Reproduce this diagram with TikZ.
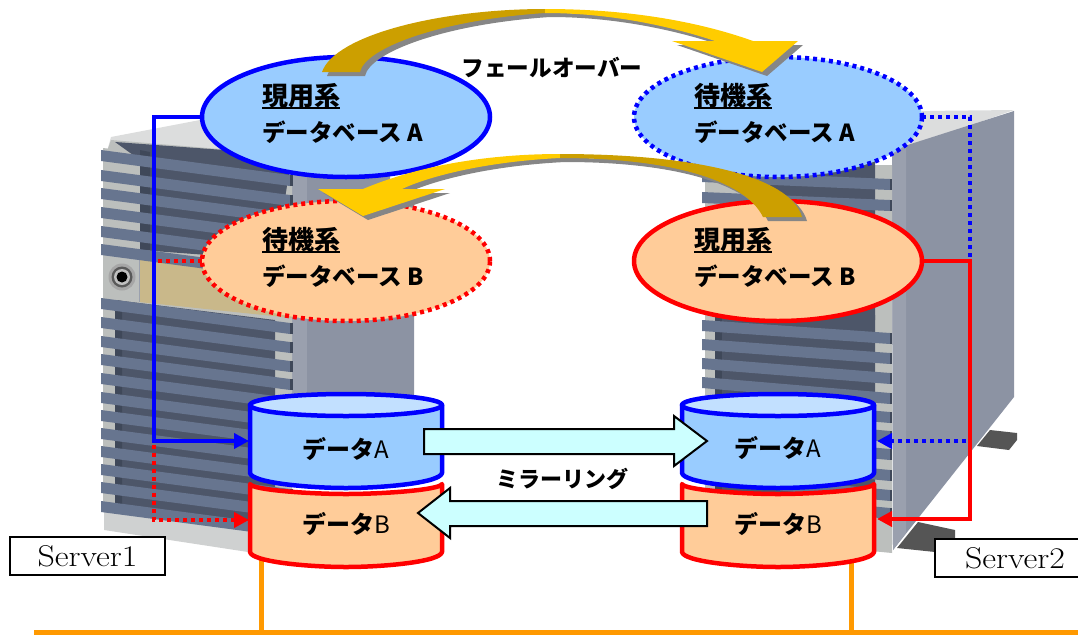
\documentclass[tikz,border=0pt]{standalone}
\usepackage{fontspec}
\newfontfamily\jp{Noto Sans CJK JP}
\usetikzlibrary{arrows.meta,shapes.geometric,calc}
\definecolor{cblue}{HTML}{0000FF}
\definecolor{cred}{HTML}{FF0000}
\definecolor{fblue}{HTML}{99CCFF}
\definecolor{ftop}{HTML}{C2E0FF}
\definecolor{forange}{HTML}{FFCC99}
\definecolor{fcyan}{HTML}{CCFFFF}
\definecolor{lan}{HTML}{FF9900}
\definecolor{goldd}{HTML}{CC9F00}
\definecolor{goldl}{HTML}{FFCC00}
\definecolor{shad}{HTML}{868686}
\definecolor{slat}{HTML}{67758F}
\definecolor{slatd}{HTML}{4D5669}
\definecolor{slatc}{HTML}{3F4859}
\definecolor{panel}{HTML}{BCBFBD}
\definecolor{sidea}{HTML}{8C93A3}
\definecolor{sideb}{HTML}{9AA0AE}
\definecolor{topl}{HTML}{DCDDDD}
\definecolor{botl}{HTML}{CFD1D1}
\definecolor{tan}{HTML}{C9B88A}
\definecolor{foot}{HTML}{555555}
\newcommand{\ulbar}[1]{\setbox0\hbox{#1}\rlap{\rule[-3.6pt]{\wd0}{1.9pt}}\box0}
\tikzset{
  x=1pt,y=-1pt,
  dbell/.style={shape=ellipse,minimum width=288pt,minimum height=120pt,inner sep=0pt,outer sep=0pt,line width=4.5pt},
  bluesolid/.style={dbell,draw=cblue,fill=fblue},
  bluedot/.style={dbell,draw=cblue,fill=fblue,dash pattern=on 4pt off 4pt},
  redsolid/.style={dbell,draw=cred,fill=forange},
  reddot/.style={dbell,draw=cred,fill=forange,dash pattern=on 4pt off 4pt},
  jptext/.style={font=\jp\bfseries\fontsize{23.5}{28}\selectfont,inner sep=0pt,anchor=west,text=black},
  jphead/.style={font=\jp\bfseries\fontsize{26}{30}\selectfont,inner sep=0pt,anchor=west,text=black},
  cyltext/.style={font=\jp\bfseries\fontsize{24}{28}\selectfont,inner sep=0pt,text=black},
  captiontext/.style={font=\jp\bfseries\fontsize{22}{26}\selectfont,inner sep=0pt,text=black},
  serverbox/.style={draw=black,fill=white,line width=1.5pt,minimum width=155pt,minimum height=38pt,inner sep=0pt,font=\fontsize{30}{32}\selectfont},
  conn/.style={line width=4pt,-{Triangle[length=15pt,width=15pt]}},
  dotline/.style={dash pattern=on 4pt off 4pt},
  blockarrow/.style={draw=black,fill=fcyan,line width=2pt,miter limit=10},
  cylblue/.style={draw=cblue,line width=4.5pt,line join=round},
  cylred/.style={draw=cred,line width=4.5pt,line join=round},
  lanline/.style={draw=lan,line width=5pt},
}
\begin{document}
\begin{tikzpicture}
\useasboundingbox (0,0) rectangle (1078,635);
% ---------- Server 1
\fill[topl] (111,137) -- (200,120) -- (300,115) -- (300,170) -- (106,155) -- cycle;
\fill[panel] (111,140) -- (292,155) -- (292,180) -- (104,160) -- cycle;
\fill[sidea] (292,130) -- (390,130) -- (390,185) -- (414,195) -- (414,420) -- (292,420) -- cycle;
\fill[sideb] (292,130) -- (307,130) -- (307,420) -- (292,420) -- cycle;
\fill[panel] (103,148) -- (292,170) -- (292,520) -- (103,505) -- cycle;
\fill[botl] (104,505) -- (292,525) -- (292,556) -- (248,552) -- (104,530) -- cycle;
\fill[slatd] (115,142) -- (292,155) -- (275,260) -- (140,250) -- (140,160) -- cycle;
\fill[slatc] (140,150) -- (150,152) -- (150,250) -- (140,250) -- cycle;
\fill[slatd] (115,300) -- (275,320) -- (275,530) -- (115,512) -- cycle;
\fill[slatc] (115,300) -- (122,301) -- (122,512) -- (115,512) -- cycle;
\fill[tan] (139,257) -- (292,270) -- (292,318) -- (139,302) -- cycle;
\fill[panel] (104,255) -- (139,257) -- (139,302) -- (104,298) -- cycle;
\fill[sideb] (138.5,257) rectangle (139.5,302);
\fill[gray!70] (122,277) circle (13.5pt);
\fill[black!65] (122,277) circle (10.5pt);
\fill[gray!50] (122,277) circle (8pt);
\fill[black] (122,277) circle (5.5pt);
\foreach \y in {150,170,188,207,226,244,298,317,336,354,373,392,410,428,446,464,482,501}{
  \fill[slat] (101,\y) -- (290,{\y+25}) -- (290,{\y+36}) -- (101,{\y+11}) -- cycle;
  \fill[slatc] (290,{\y+25}) -- (293,{\y+25}) -- (293,{\y+36}) -- (290,{\y+36}) -- cycle;
}
% ---------- Server 2
\fill[foot] (990,430) -- (1017,433) -- (1017,440) -- (1009,450) -- (977,446) -- cycle;
\fill[foot] (918,522) -- (955,530) -- (955,538) -- (935,552) -- (897,548) -- cycle;
\fill[topl] (922,111) -- (1014,110) -- (900,150) -- cycle;
\fill[sidea] (892,150) -- (1014,111) -- (1014,397) -- (893,550) -- cycle;
\fill[sideb] (892,150) -- (906,145) -- (906,533) -- (893,550) -- cycle;
\fill[panel] (705,165) -- (892,165) -- (892,553) -- (705,535) -- cycle;
\fill[slatd] (740,160) -- (875,160) -- (875,320) -- (740,310) -- cycle;
\fill[slatd] (715,310) -- (875,315) -- (875,535) -- (715,520) -- cycle;
\fill[slatc] (715,310) -- (722,310) -- (722,520) -- (715,520) -- cycle;
\foreach \y/\d in {171/8,192/8,320/13,339/14,358/15,377/16,396/16,414/17,432/17,452/18,472/18,490/18}{
  \fill[slat] (702,\y) -- (890,{\y+\d}) -- (890,{\y+\d+11}) -- (702,{\y+11}) -- cycle;
  \fill[slatc] (890,{\y+\d}) -- (892,{\y+\d}) -- (892,{\y+\d+11}) -- (890,{\y+\d+11}) -- cycle;
}
% ---------- LAN
\coordinate (lanL) at (34,632);
\coordinate (lanR) at (1078,632);
\coordinate (dropA) at (261,555);
\coordinate (dropB) at (851,555);
\draw[lanline] (lanL) -- (lanR);
\draw[lanline] (dropA) -- (dropA |- lanL);
\draw[lanline] (dropB) -- (dropB |- lanL);
% ---------- Database ellipses
\node[bluesolid] (eA1) at (346,117) {};
\node[bluedot]   (eA2) at (778,117) {};
\node[reddot]    (eB1) at (346,261) {};
\node[redsolid]  (eB2) at (778,261) {};
\node[jphead] (tA1a) at (262,96) {\ulbar{現用系}};
\node[jptext] (tA1b) at (262,132) {データベース A};
\node[jphead] (tA2a) at (694,96) {\ulbar{待機系}};
\node[jptext] (tA2b) at (694,132) {データベース A};
\node[jphead] (tB1a) at (262,240) {\ulbar{待機系}};
\node[jptext] (tB1b) at (262,276) {データベース B};
\node[jphead] (tB2a) at (694,240) {\ulbar{現用系}};
\node[jptext] (tB2b) at (694,276) {データベース B};
% ---------- Connector anchors
\coordinate (pA1) at (249,441);
\coordinate (pB1) at (249,520);
\coordinate (pA2) at (877,441);
\coordinate (pB2) at (877,519);
\coordinate (busL) at (154,0);
\coordinate (busR) at (970,0);
\draw[conn,draw=cred,dotline] (eB1.west) -| (busL |- pB1) -- (pB1);
\draw[conn,draw=cblue] (eA1.west) -| (busL |- pA1) -- (pA1);
\draw[conn,draw=cblue,dotline] (eA2.east) -| (busR |- pA2) -- (pA2);
\draw[conn,draw=cred] (eB2.east) -| (busR |- pB2) -- (pB2);
% ---------- Cylinders
\foreach \dx in {0,432}{
\begin{scope}[xshift=\dx pt]
  \draw[cylred,fill=forange] (250,484) -- (250,552) .. controls (252,562) and (310,567) .. (346,567) .. controls (382,567) and (440,562) .. (442,552) -- (442,484) .. controls (440,490) and (382,494) .. (346,494) .. controls (310,494) and (252,490) .. (250,484) -- cycle;
  \draw[cylblue,fill=fblue] (250,405) -- (250,473) .. controls (252,483) and (310,488) .. (346,488) .. controls (382,488) and (440,483) .. (442,473) -- (442,405) -- cycle;
  \draw[cylblue,fill=ftop] (346,405) ellipse [x radius=96pt,y radius=11pt];
\end{scope}
}
\node[cyltext] (dA1) at (346,449) {データ\mdseries A};
\node[cyltext] (dB1) at (346,524) {データ\mdseries B};
\node[cyltext] (dA2) at (778,448) {データ\mdseries A};
\node[cyltext] (dB2) at (778,524) {データ\mdseries B};
% ---------- Mirroring block arrows
\draw[blockarrow] (424,429) -- (674,429) -- (674,416) -- (707,441) -- (674,466) -- (674,454) -- (424,454) -- cycle;
\draw[blockarrow] (707,501) -- (450,501) -- (450,488) -- (418,513) -- (450,538) -- (450,526) -- (707,526) -- cycle;
\node[captiontext] (mirror) at (562,479) {ミラーリング};
% ---------- Failover arrows
\def\upperarrow{(322,72) .. controls (335,35) and (440,9) .. (545,9) .. controls (630,9) and (700,22) .. (753,41) -- (798,41) -- (762,72) -- (672,41) -- (715,41) .. controls (670,26) and (610,13) .. (545,13) .. controls (440,20) and (365,48) .. (360,72) -- cycle}
\fill[shad,shift={(5pt,-4pt)}] \upperarrow;
\begin{scope}
  \clip (0,0) rectangle (545,100);
  \fill[goldd] \upperarrow;
\end{scope}
\begin{scope}
  \clip (545,0) rectangle (1078,100);
  \fill[goldl] \upperarrow;
\end{scope}
\def\lowerarrow{(802,217) .. controls (790,175) and (690,154) .. (560,154) .. controls (490,154) and (420,165) .. (363,189) -- (318,189) -- (363,216) -- (445,189) -- (402,189) .. controls (425,178) and (480,162) .. (560,158) .. controls (670,158) and (745,180) .. (763,217) -- cycle}
\fill[shad,shift={(5pt,-4pt)}] \lowerarrow;
\begin{scope}
  \clip (0,100) rectangle (560,260);
  \fill[goldl] \lowerarrow;
\end{scope}
\begin{scope}
  \clip (560,100) rectangle (1078,260);
  \fill[goldd] \lowerarrow;
\end{scope}
\node[captiontext,font=\jp\bfseries\fontsize{22.6}{26}\selectfont] (failover) at (552,68) {フェールオーバー};
% ---------- Server labels
\node[serverbox] (s1) at (87.5,556) {\scalebox{1.13}[1]{Server1}};
\node[serverbox,minimum width=160pt] (s2) at (1015,558) {\scalebox{1.13}[1]{Server2}};
\end{tikzpicture}
\end{document}
